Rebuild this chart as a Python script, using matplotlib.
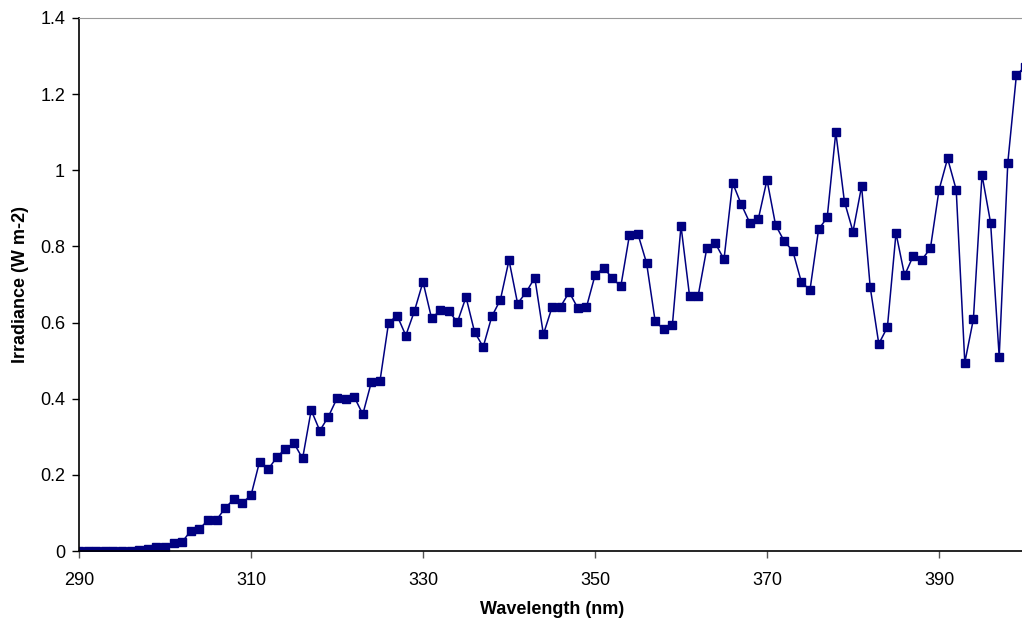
import matplotlib.pyplot as plt

plt.rcParams['font.family'] = ['Liberation Sans', 'DejaVu Sans']

wavelength = list(range(290, 401))
irradiance = [
    0.0, 0.0, 0.0, 0.0, 0.001, 0.001, 0.001, 0.002, 0.004, 0.010,
    0.011, 0.020, 0.024, 0.053, 0.058, 0.081, 0.082, 0.113, 0.136, 0.127,
    0.146, 0.235, 0.215, 0.246, 0.269, 0.283, 0.243, 0.370, 0.316, 0.353,
    0.401, 0.400, 0.405, 0.359, 0.444, 0.447, 0.600, 0.618, 0.566, 0.630,
    0.707, 0.611, 0.632, 0.630, 0.601, 0.667, 0.575, 0.536, 0.616, 0.660,
    0.764, 0.650, 0.680, 0.718, 0.569, 0.640, 0.642, 0.680, 0.638, 0.640,
    0.724, 0.744, 0.717, 0.695, 0.829, 0.832, 0.756, 0.603, 0.582, 0.594,
    0.854, 0.669, 0.671, 0.795, 0.808, 0.766, 0.967, 0.911, 0.862, 0.873,
    0.975, 0.856, 0.814, 0.788, 0.706, 0.686, 0.845, 0.876, 1.100, 0.918,
    0.839, 0.958, 0.693, 0.544, 0.588, 0.835, 0.724, 0.775, 0.765, 0.795,
    0.948, 1.031, 0.949, 0.495, 0.609, 0.988, 0.862, 0.510, 1.020, 1.250,
    1.272,
]

x_ticks = [290, 310, 330, 350, 370, 390]
y_ticks = [0, 0.2, 0.4, 0.6, 0.8, 1.0, 1.2, 1.4]
y_labels = ['0', '0.2', '0.4', '0.6', '0.8', '1', '1.2', '1.4']

fig = plt.figure(figsize=(10.22, 6.24), dpi=100)
ax = fig.add_axes([79 / 1022, 73 / 624, 946 / 1022, 533 / 624])

ax.plot(wavelength, irradiance, color='#000080', lw=1.1, marker='s',
        markersize=5.5, markerfacecolor='#000080', markeredgecolor='#000080')

ax.set_xlim(290, 400)
ax.set_ylim(0, 1.4)
ax.set_xticks(x_ticks)
ax.set_yticks(y_ticks)
ax.set_yticklabels(y_labels)
ax.tick_params(axis='both', labelsize=13, direction='out', length=5, width=1)
ax.tick_params(axis='x', colors='#555555', labelcolor='black', pad=10)
ax.tick_params(axis='y', pad=5)

ax.spines['left'].set_color('black')
ax.spines['bottom'].set_color('black')
ax.spines['left'].set_linewidth(1.2)
ax.spines['bottom'].set_linewidth(1.2)
ax.spines['top'].set_color('#999999')
ax.spines['right'].set_color('#999999')

ax.set_xlabel('Wavelength (nm)', fontsize=13, fontweight='bold', labelpad=9)
ax.set_ylabel('Irradiance (W m-2)', fontsize=13, fontweight='bold', labelpad=8)

fig.savefig('out.png', dpi=100)
